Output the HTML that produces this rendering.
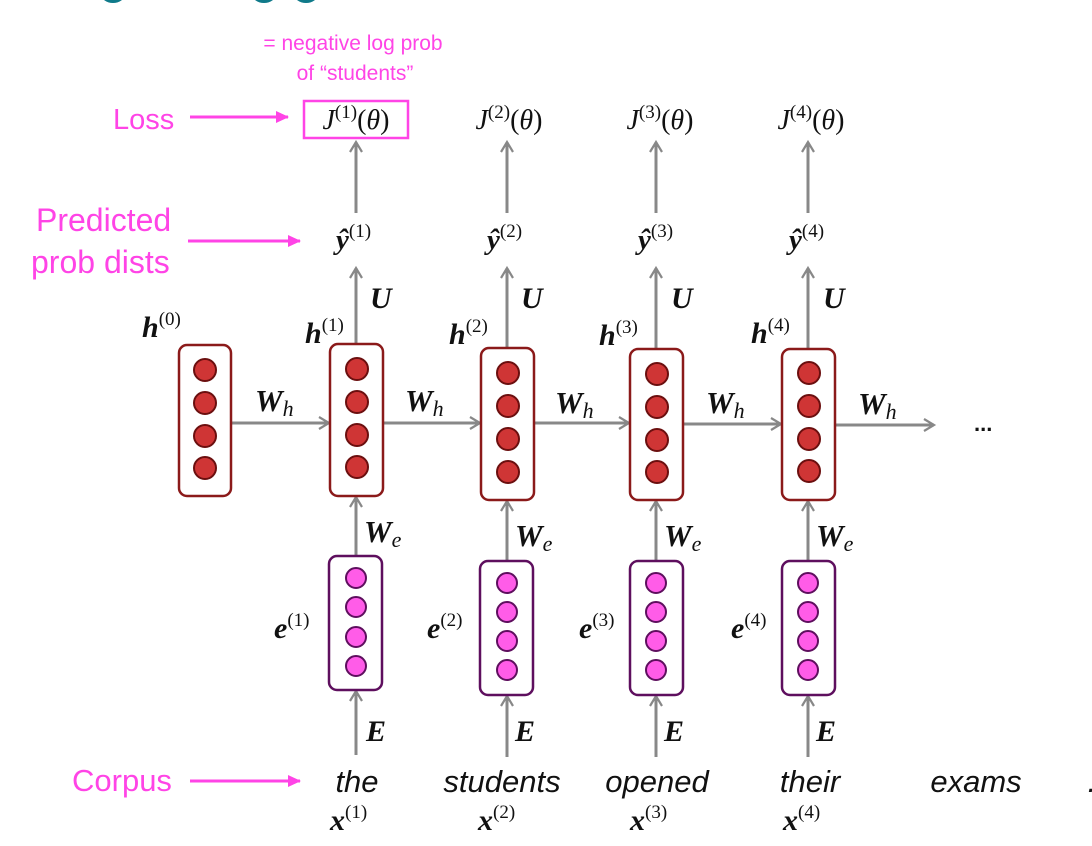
<!DOCTYPE html>
<html><head><meta charset="utf-8"><style>
body{margin:0;background:#fff;width:1092px;height:846px;overflow:hidden}
svg{display:block}
.p{font-family:"Liberation Sans",sans-serif;fill:#ff44e6}
.m{font-family:"Liberation Serif",serif;fill:#111}
.b{font-weight:bold;font-style:italic}
.w{font-family:"Liberation Sans",sans-serif;font-style:italic;font-size:31px;fill:#111}
</style></head><body>
<svg width="1092" height="846" viewBox="0 0 1092 846" xmlns="http://www.w3.org/2000/svg">
<defs>
<marker id="g" markerWidth="14" markerHeight="14" refX="11" refY="7" orient="auto" markerUnits="userSpaceOnUse"><path d="M1,1 L11,7 L1,13" fill="none" stroke="#888" stroke-width="2.2"/></marker>
<marker id="pk" markerWidth="14" markerHeight="14" refX="12" refY="6" orient="auto" markerUnits="userSpaceOnUse"><path d="M0,0 L13,6 L0,12 Z" fill="#ff44e6"/></marker>
</defs>
<ellipse cx="113" cy="-6" rx="12" ry="9" fill="#0f7a8a"/>
<ellipse cx="264" cy="-6" rx="12" ry="9" fill="#0f7a8a"/>
<ellipse cx="306" cy="-6" rx="12" ry="9" fill="#0f7a8a"/>

<text class="p" x="353" y="50" font-size="21" text-anchor="middle">= negative log prob</text>
<text class="p" x="355" y="80" font-size="21" text-anchor="middle">of “students”</text>
<text class="p" x="113" y="129" font-size="29">Loss</text>
<line x1="190" y1="117" x2="288" y2="117" stroke="#ff44e6" stroke-width="3" marker-end="url(#pk)"/>
<text class="p" x="36" y="231" font-size="32">Predicted</text>
<text class="p" x="31" y="273" font-size="32">prob dists</text>
<line x1="188" y1="241" x2="300" y2="241" stroke="#ff44e6" stroke-width="3" marker-end="url(#pk)"/>
<text class="p" x="72" y="791" font-size="31">Corpus</text>
<line x1="190" y1="781" x2="300" y2="781" stroke="#ff44e6" stroke-width="3" marker-end="url(#pk)"/>
<rect x="304" y="101" width="104" height="37" fill="none" stroke="#ff44e6" stroke-width="2.5"/>

<g stroke="#888" stroke-width="3" fill="none">
<line x1="356" y1="213" x2="356" y2="142" marker-end="url(#g)"/>
<line x1="507" y1="213" x2="507" y2="142" marker-end="url(#g)"/>
<line x1="656" y1="213" x2="656" y2="142" marker-end="url(#g)"/>
<line x1="808" y1="213" x2="808" y2="142" marker-end="url(#g)"/>
<line x1="356" y1="344" x2="356" y2="268" marker-end="url(#g)"/>
<line x1="507" y1="348" x2="507" y2="268" marker-end="url(#g)"/>
<line x1="656" y1="349" x2="656" y2="268" marker-end="url(#g)"/>
<line x1="808" y1="349" x2="808" y2="268" marker-end="url(#g)"/>
<line x1="231" y1="423" x2="329" y2="423" marker-end="url(#g)"/>
<line x1="383" y1="423" x2="480" y2="423" marker-end="url(#g)"/>
<line x1="534" y1="423" x2="629" y2="423" marker-end="url(#g)"/>
<line x1="683" y1="424" x2="781" y2="424" marker-end="url(#g)"/>
<line x1="835" y1="425" x2="934" y2="425" marker-end="url(#g)"/>
<line x1="356" y1="556" x2="356" y2="497" marker-end="url(#g)"/>
<line x1="507" y1="561" x2="507" y2="501" marker-end="url(#g)"/>
<line x1="656" y1="561" x2="656" y2="501" marker-end="url(#g)"/>
<line x1="808" y1="561" x2="808" y2="501" marker-end="url(#g)"/>
<line x1="356" y1="755" x2="356" y2="691" marker-end="url(#g)"/>
<line x1="507" y1="757" x2="507" y2="696" marker-end="url(#g)"/>
<line x1="656" y1="757" x2="656" y2="696" marker-end="url(#g)"/>
<line x1="808" y1="757" x2="808" y2="696" marker-end="url(#g)"/>
</g>

<g stroke="#8b1a1a" stroke-width="2.5" fill="#fff">
<rect x="179" y="345" width="52" height="151" rx="8"/>
<rect x="330" y="344" width="53" height="152" rx="8"/>
<rect x="481" y="348" width="53" height="152" rx="8"/>
<rect x="630" y="349" width="53" height="151" rx="8"/>
<rect x="782" y="349" width="53" height="151" rx="8"/>
</g>
<g fill="#cf3535" stroke="#6b0f0f" stroke-width="2">
<circle cx="205" cy="370" r="11"/><circle cx="205" cy="403" r="11"/><circle cx="205" cy="436" r="11"/><circle cx="205" cy="468" r="11"/>
<circle cx="357" cy="369" r="11"/><circle cx="357" cy="402" r="11"/><circle cx="357" cy="435" r="11"/><circle cx="357" cy="467" r="11"/>
<circle cx="508" cy="373" r="11"/><circle cx="508" cy="406" r="11"/><circle cx="508" cy="439" r="11"/><circle cx="508" cy="472" r="11"/>
<circle cx="657" cy="374" r="11"/><circle cx="657" cy="407" r="11"/><circle cx="657" cy="440" r="11"/><circle cx="657" cy="472" r="11"/>
<circle cx="809" cy="373" r="11"/><circle cx="809" cy="406" r="11"/><circle cx="809" cy="439" r="11"/><circle cx="809" cy="471" r="11"/>
</g>
<g stroke="#5e0f5e" stroke-width="2.5" fill="#fff">
<rect x="329" y="556" width="53" height="134" rx="8"/>
<rect x="480" y="561" width="53" height="134" rx="8"/>
<rect x="630" y="561" width="53" height="134" rx="8"/>
<rect x="782" y="561" width="53" height="134" rx="8"/>
</g>
<g fill="#ff5ce8" stroke="#5e0f5e" stroke-width="2">
<circle cx="356" cy="578" r="10"/><circle cx="356" cy="607" r="10"/><circle cx="356" cy="637" r="10"/><circle cx="356" cy="666" r="10"/>
<circle cx="507" cy="583" r="10"/><circle cx="507" cy="612" r="10"/><circle cx="507" cy="641" r="10"/><circle cx="507" cy="670" r="10"/>
<circle cx="656" cy="583" r="10"/><circle cx="656" cy="612" r="10"/><circle cx="656" cy="641" r="10"/><circle cx="656" cy="670" r="10"/>
<circle cx="808" cy="583" r="10"/><circle cx="808" cy="612" r="10"/><circle cx="808" cy="641" r="10"/><circle cx="808" cy="670" r="10"/>
</g>

<g class="m" font-size="28" text-anchor="middle">
<text x="356" y="129"><tspan font-style="italic">J</tspan><tspan font-size="19" dy="-11">(1)</tspan><tspan dy="11">(</tspan><tspan font-style="italic">θ</tspan>)</text>
<text x="509" y="129"><tspan font-style="italic">J</tspan><tspan font-size="19" dy="-11">(2)</tspan><tspan dy="11">(</tspan><tspan font-style="italic">θ</tspan>)</text>
<text x="660" y="129"><tspan font-style="italic">J</tspan><tspan font-size="19" dy="-11">(3)</tspan><tspan dy="11">(</tspan><tspan font-style="italic">θ</tspan>)</text>
<text x="811" y="129"><tspan font-style="italic">J</tspan><tspan font-size="19" dy="-11">(4)</tspan><tspan dy="11">(</tspan><tspan font-style="italic">θ</tspan>)</text>
</g>
<g class="m" font-size="29">
<text x="336" y="249"><tspan class="b">ŷ</tspan><tspan font-size="19" dy="-12">(1)</tspan></text>
<text x="487" y="249"><tspan class="b">ŷ</tspan><tspan font-size="19" dy="-12">(2)</tspan></text>
<text x="638" y="249"><tspan class="b">ŷ</tspan><tspan font-size="19" dy="-12">(3)</tspan></text>
<text x="789" y="249"><tspan class="b">ŷ</tspan><tspan font-size="19" dy="-12">(4)</tspan></text>
</g>
<g class="m b" font-size="30">
<text x="370" y="308">U</text><text x="521" y="308">U</text><text x="671" y="308">U</text><text x="823" y="308">U</text>
</g>
<g class="m" font-size="30">
<text x="142" y="337"><tspan class="b">h</tspan><tspan font-size="19" dy="-12">(0)</tspan></text>
<text x="305" y="343"><tspan class="b">h</tspan><tspan font-size="19" dy="-12">(1)</tspan></text>
<text x="449" y="344"><tspan class="b">h</tspan><tspan font-size="19" dy="-12">(2)</tspan></text>
<text x="599" y="345"><tspan class="b">h</tspan><tspan font-size="19" dy="-12">(3)</tspan></text>
<text x="751" y="343"><tspan class="b">h</tspan><tspan font-size="19" dy="-12">(4)</tspan></text>
</g>
<g class="m" font-size="31">
<text x="255" y="411"><tspan class="b">W</tspan><tspan font-style="italic" font-size="22" dy="5">h</tspan></text>
<text x="405" y="411"><tspan class="b">W</tspan><tspan font-style="italic" font-size="22" dy="5">h</tspan></text>
<text x="555" y="413"><tspan class="b">W</tspan><tspan font-style="italic" font-size="22" dy="5">h</tspan></text>
<text x="706" y="413"><tspan class="b">W</tspan><tspan font-style="italic" font-size="22" dy="5">h</tspan></text>
<text x="858" y="414"><tspan class="b">W</tspan><tspan font-style="italic" font-size="22" dy="5">h</tspan></text>
</g>
<text x="974" y="431" font-family="Liberation Sans,sans-serif" font-size="22" font-weight="bold" fill="#111">...</text>
<g class="m" font-size="31">
<text x="364" y="542"><tspan class="b">W</tspan><tspan font-style="italic" font-size="22" dy="5">e</tspan></text>
<text x="515" y="546"><tspan class="b">W</tspan><tspan font-style="italic" font-size="22" dy="5">e</tspan></text>
<text x="664" y="546"><tspan class="b">W</tspan><tspan font-style="italic" font-size="22" dy="5">e</tspan></text>
<text x="816" y="546"><tspan class="b">W</tspan><tspan font-style="italic" font-size="22" dy="5">e</tspan></text>
</g>
<g class="m" font-size="30">
<text x="274" y="638"><tspan class="b">e</tspan><tspan font-size="19" dy="-12">(1)</tspan></text>
<text x="427" y="638"><tspan class="b">e</tspan><tspan font-size="19" dy="-12">(2)</tspan></text>
<text x="579" y="638"><tspan class="b">e</tspan><tspan font-size="19" dy="-12">(3)</tspan></text>
<text x="731" y="638"><tspan class="b">e</tspan><tspan font-size="19" dy="-12">(4)</tspan></text>
</g>
<g class="m b" font-size="30">
<text x="366" y="741">E</text><text x="515" y="741">E</text><text x="664" y="741">E</text><text x="816" y="741">E</text>
</g>
<text class="w" x="357" y="792" text-anchor="middle">the</text>
<text class="w" x="502" y="792" text-anchor="middle">students</text>
<text class="w" x="657" y="792" text-anchor="middle">opened</text>
<text class="w" x="810" y="792" text-anchor="middle">their</text>
<text class="w" x="976" y="792" text-anchor="middle">exams</text>
<text class="w" x="1086" y="792">…</text>
<g class="m" font-size="30">
<text x="330" y="830"><tspan class="b">x</tspan><tspan font-size="19" dy="-12">(1)</tspan></text>
<text x="478" y="830"><tspan class="b">x</tspan><tspan font-size="19" dy="-12">(2)</tspan></text>
<text x="630" y="830"><tspan class="b">x</tspan><tspan font-size="19" dy="-12">(3)</tspan></text>
<text x="783" y="830"><tspan class="b">x</tspan><tspan font-size="19" dy="-12">(4)</tspan></text>
</g>
</svg>
</body></html>
